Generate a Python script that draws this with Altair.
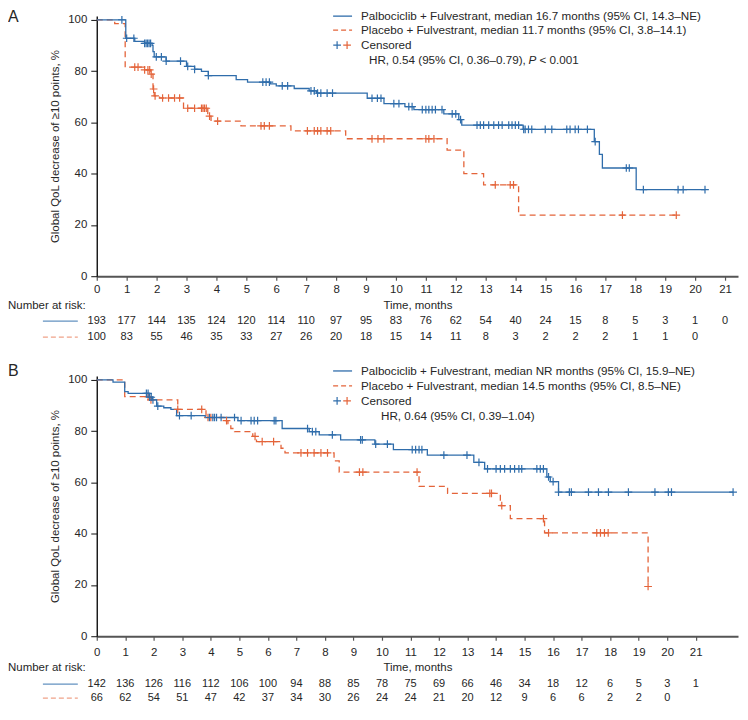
import altair as alt
import pandas as pd

FONT = "Liberation Sans"
BLUE = "#2f6dab"
ORANGE = "#e4643a"
INK = "#262626"
W = 643
H = 261
CROSS = "M-1,0L1,0M0,-1L0,1"

# ---------------- Panel A data ----------------
a_pal_t = [0, 0.97, 1.27, 1.6, 1.85, 1.88, 1.92, 2.32, 3.0, 3.27, 3.5, 3.73, 4.66, 5.04, 5.8, 6.0,
           6.6, 7.1, 7.35, 9.04, 9.6, 10.3, 10.6, 11.6, 12.1, 12.2, 14.25, 16.63, 16.8, 16.9, 18.03, 20.33]
a_pal_s = [100, 92.8, 91.6, 90.8, 90.0, 87.6, 85.5, 83.9, 81.8, 80.7, 79.9, 78.2, 76.7, 75.7, 75.0, 74.2,
           73.2, 72.3, 71.4, 69.4, 67.3, 66.1, 65.0, 63.3, 61.1, 58.9, 57.3, 52.5, 47.5, 42.2, 33.8, 33.8]
a_pal_c = [0.84, 1.0, 1.24, 1.6, 1.65, 1.7, 1.75, 1.8, 1.99, 2.16, 2.32, 2.8, 3.04, 3.27, 3.73, 5.55, 5.66,
           5.77, 6.2, 6.38, 7.16, 7.27, 7.38, 7.49, 7.7, 7.88, 9.2, 9.38, 9.5, 9.93, 10.1, 10.43, 10.54,
           10.88, 11.0, 11.1, 11.21, 11.32, 11.54, 11.88, 12.0, 12.16, 12.71, 12.82, 12.93, 13.1, 13.27,
           13.43, 13.55, 13.77, 13.88, 13.99, 14.1, 14.27, 14.32, 14.43, 14.54, 14.99, 15.21, 15.71,
           15.82, 15.99, 16.1, 16.4, 16.66, 17.7, 17.8, 18.27, 19.43, 19.6, 20.33]
a_pla_t = [0, 0.6, 0.95, 1.6, 1.8, 1.88, 1.92, 2.1, 2.9, 3.71, 3.82, 4.82, 6.49, 8.32, 11.71, 12.27,
           12.93, 14.1, 19.37]
a_pla_s = [100, 98.5, 81.5, 80.5, 78.8, 73.0, 70.3, 69.5, 65.5, 62.4, 60.5, 58.6, 56.7, 53.6, 49.2, 40.0,
           35.6, 23.8, 23.8]
a_pla_c = [1.27, 1.38, 1.6, 1.71, 1.77, 1.82, 1.9, 1.95, 2.2, 2.4, 2.6, 2.77, 3.04, 3.27, 3.5, 3.55, 3.6,
           3.66, 3.77, 4.04, 5.49, 5.6, 5.77, 7.04, 7.27, 7.38, 7.49, 7.7, 7.82, 9.2, 9.4, 9.6, 11.0, 11.1,
           11.27, 13.32, 13.82, 13.93, 17.57, 19.37]
a_risk_pal = [193, 177, 144, 135, 124, 120, 114, 110, 97, 95, 83, 76, 62, 54, 40, 24, 15, 8, 5, 3, 1, 0]
a_risk_pla = [100, 83, 55, 46, 35, 33, 27, 26, 20, 18, 15, 14, 11, 8, 3, 2, 2, 2, 1, 1, 0]

# ---------------- Panel B data ----------------
b_pal_t = [0, 0.57, 0.98, 1.1, 1.85, 1.95, 2.1, 2.35, 2.6, 2.8, 3.8, 4.95, 6.5, 7.45, 7.8, 8.55, 9.75,
           10.4, 11.59, 13.22, 13.6, 15.78, 15.9, 16.19, 22.31]
b_pal_s = [100, 99.1, 95.4, 94.7, 93.2, 92.2, 89.7, 89.1, 88.5, 86.0, 85.3, 84.1, 81.0, 79.8, 78.5, 76.6,
           74.9, 72.8, 70.6, 67.8, 65.3, 62.1, 60.3, 56.2, 56.2]
b_pal_c = [1.74, 1.8, 1.85, 1.91, 1.97, 2.14, 2.9, 3.31, 3.95, 4.07, 4.13, 4.2, 4.36, 4.83, 5.06, 5.41,
           5.52, 5.64, 6.22, 6.28, 7.39, 7.56, 7.68, 8.26, 9.25, 9.31, 9.78, 10.19, 11.06, 11.18, 11.3,
           11.4, 12.17, 12.98, 13.4, 13.7, 14.0, 14.15, 14.3, 14.5, 14.65, 14.8, 14.9, 15.43, 15.55,
           15.66, 15.84, 16.0, 16.19, 16.57, 16.64, 17.24, 17.59, 17.94, 18.64, 19.57, 20.04, 20.15, 22.31]
b_pla_t = [0, 0.98, 1.9, 2.84, 3.83, 4.53, 4.6, 4.7, 4.83, 5.47, 5.6, 6.46, 6.6, 8.32, 8.5, 11.3, 12.3,
           14.15, 14.5, 15.7, 19.33]
b_pla_s = [100, 93.4, 92.2, 88.5, 85.3, 84.1, 82.9, 81.0, 79.8, 77.9, 75.9, 73.3, 71.5, 68.4, 64.0, 58.4,
           55.7, 50.9, 45.9, 40.3, 19.4]
b_pla_c = [1.8, 1.9, 2.84, 3.68, 3.9, 4.0, 4.55, 5.55, 5.8, 6.2, 7.16, 7.39, 7.62, 7.86, 8.09, 9.21, 9.33,
           11.23, 13.78, 13.84, 14.2, 15.66, 15.84, 17.53, 17.66, 17.8, 17.93, 19.33]
b_risk_pal = [142, 136, 126, 116, 112, 106, 100, 94, 88, 85, 78, 75, 69, 66, 46, 34, 18, 12, 6, 5, 3, 1]
b_risk_pla = [66, 62, 54, 51, 47, 42, 37, 34, 30, 26, 24, 24, 21, 20, 12, 9, 6, 6, 2, 2, 0]

a_legend = ["Palbociclib + Fulvestrant, median 16.7 months (95% CI, 14.3\u2013NE)",
            "Placebo + Fulvestrant, median 11.7 months (95% CI, 3.8\u201314.1)",
            "Censored"]
a_hr = ["HR, 0.54 (95% CI, 0.36\u20130.79),", "P", "< 0.001"]
b_legend = ["Palbociclib + Fulvestrant, median NR months (95% CI, 15.9\u2013NE)",
            "Placebo + Fulvestrant, median 14.5 months (95% CI, 8.5\u2013NE)",
            "Censored"]
b_hr = ["HR, 0.64 (95% CI, 0.39\u20131.04)"]


def km_at(times, surv, c):
    v = surv[0]
    for ti, si in zip(times, surv):
        if ti <= c + 1e-9:
            v = si
    return v


def one(label):
    return pd.DataFrame({"label": [label]})


def txt(label, x, y, size=11.5, align="left", style="normal", color=INK):
    return alt.Chart(one(label)).mark_text(
        font=FONT, fontSize=size, align=align, baseline="middle", fontStyle=style, color=color
    ).encode(x=alt.value(x), y=alt.value(y), text="label:N")


def panel(tag, xmax, pal_t, pal_s, pal_c, pla_t, pla_s, pla_c, risk_pal, risk_pla, legend, hr, lay):
    xenc = alt.X("t:Q", scale=alt.Scale(domain=[0, xmax], nice=False, zero=False),
                 axis=alt.Axis(values=list(range(22)), format="d", title="Time, months",
                               tickSize=4, labelPadding=lay["lp"], titlePadding=lay["tp"],
                               domainColor="#555555", domainWidth=2, tickColor="#555555",
                               tickWidth=1.2, labelFlush=False, labelOverlap=False))
    yenc = alt.Y("s:Q", scale=alt.Scale(domain=[0, 101.5], nice=False),
                 axis=alt.Axis(values=[0, 20, 40, 60, 80, 100], format="d",
                               title="Global QoL decrease of \u226510 points, %",
                               tickSize=6, labelPadding=4, titlePadding=7,
                               domainColor="#111111", domainWidth=1.4, tickColor="#111111"))
    d_pal = pd.DataFrame({"t": pal_t, "s": pal_s})
    d_pla = pd.DataFrame({"t": pla_t, "s": pla_s})
    c_pal = pd.DataFrame({"t": pal_c, "s": [km_at(pal_t, pal_s, c) for c in pal_c]})
    c_pla = pd.DataFrame({"t": pla_c, "s": [km_at(pla_t, pla_s, c) for c in pla_c]})
    r_pal = pd.DataFrame({"t": list(range(len(risk_pal))), "n": [str(v) for v in risk_pal]})
    r_pla = pd.DataFrame({"t": list(range(len(risk_pla))), "n": [str(v) for v in risk_pla]})

    layers = [
        alt.Chart(d_pla).mark_line(interpolate="step-after", color=ORANGE, strokeWidth=1.3,
                                   strokeDash=[6, 4]).encode(x=xenc, y=yenc),
        alt.Chart(d_pal).mark_line(interpolate="step-after", color=BLUE, strokeWidth=1.3
                                   ).encode(x=xenc, y=yenc),
        alt.Chart(c_pla).mark_point(shape=CROSS, size=60, filled=False, color=ORANGE,
                                    strokeWidth=1.2, opacity=1).encode(x=xenc, y=yenc),
        alt.Chart(c_pal).mark_point(shape=CROSS, size=60, filled=False, color=BLUE,
                                    strokeWidth=1.2, opacity=1).encode(x=xenc, y=yenc),
        alt.Chart(r_pal).mark_text(font=FONT, fontSize=11, color=INK, baseline="middle"
                                   ).encode(x=xenc, y=alt.value(H + lay["r1"]), text="n:N"),
        alt.Chart(r_pla).mark_text(font=FONT, fontSize=11, color=INK, baseline="middle"
                                   ).encode(x=xenc, y=alt.value(H + lay["r2"]), text="n:N"),
    ]
    # legend
    ly = lay["ly"]
    lx0, lx1, tx = 237, 256, 265
    layers += [
        alt.Chart(one("a")).mark_rule(color=BLUE, strokeWidth=1.3).encode(
            x=alt.value(lx0), x2=alt.value(lx1), y=alt.value(ly[0])),
        alt.Chart(one("b")).mark_rule(color=ORANGE, strokeWidth=1.3, strokeDash=[5, 3]).encode(
            x=alt.value(lx0), x2=alt.value(lx1), y=alt.value(ly[1])),
        alt.Chart(one("c")).mark_point(shape=CROSS, size=60, filled=False, color=BLUE,
                                       strokeWidth=1.2, opacity=1).encode(
            x=alt.value(lx0 + 4), y=alt.value(ly[2])),
        alt.Chart(one("d")).mark_point(shape=CROSS, size=60, filled=False, color=ORANGE,
                                       strokeWidth=1.2, opacity=1).encode(
            x=alt.value(lx0 + 14), y=alt.value(ly[2])),
        txt(legend[0], tx, ly[0], size=11.7),
        txt(legend[1], tx, ly[1], size=11.7),
        txt(legend[2], tx, ly[2], size=11.7),
    ]
    hx = lay["hx"]
    layers.append(txt(hr[0], hx, ly[3], size=11.7))
    if len(hr) > 1:
        layers.append(txt(hr[1], hx + 160, ly[3], size=11.7, style="italic"))
        layers.append(txt(hr[2], hx + 171, ly[3], size=11.7))
    # panel tag and risk table header
    layers += [
        txt(tag, -89, lay["tag"], size=16),
        txt("Number at risk:", -89, H + lay["nr"]),
        alt.Chart(one("e")).mark_rule(color=BLUE, strokeWidth=1.2, opacity=0.75).encode(
            x=alt.value(-54), x2=alt.value(-19), y=alt.value(H + lay["r1"])),
        alt.Chart(one("f")).mark_rule(color=ORANGE, strokeWidth=1.2, opacity=0.6,
                                      strokeDash=[5, 3]).encode(
            x=alt.value(-54), x2=alt.value(-19), y=alt.value(H + lay["r2"])),
    ]
    return alt.layer(*layers).properties(width=W, height=H)


lay_a = dict(lp=3, tp=5, r1=45, r2=61, nr=30, ly=[0.2, 14.2, 29.2, 44.2], hx=273, tag=1.5)
lay_b = dict(lp=6, tp=4, r1=48, r2=62, nr=32, ly=[-5, 10, 25, 40], hx=285, tag=-5)

chart_a = panel("A", 643 / 30.0, a_pal_t, a_pal_s, a_pal_c, a_pla_t, a_pla_s, a_pla_c,
                a_risk_pal, a_risk_pla, a_legend, a_hr, lay_a)
chart_b = panel("B", 643 / 28.6, b_pal_t, b_pal_s, b_pal_c, b_pla_t, b_pla_s, b_pla_c,
                b_risk_pal, b_risk_pla, b_legend, b_hr, lay_b)

chart = alt.vconcat(chart_a, chart_b, spacing=21).properties(padding=0).configure(
    font=FONT
).configure_view(stroke=None).configure_axis(
    grid=False, labelFont=FONT, titleFont=FONT, labelFontSize=11.5, titleFontSize=11.5,
    titleFontWeight="normal", labelColor=INK, titleColor=INK
)

chart.save("out.html", embed_options={"renderer": "svg", "actions": False})
